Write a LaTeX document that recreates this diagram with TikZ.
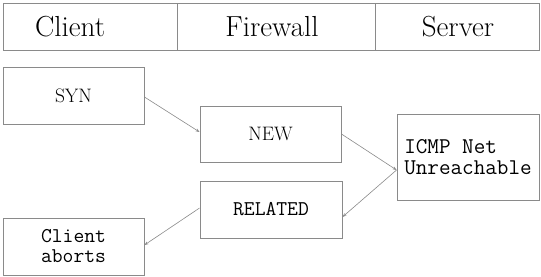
\documentclass[tikz,border=0pt]{standalone}
\usepackage{fontspec}
\usetikzlibrary{arrows.meta}
\definecolor{linegray}{HTML}{8A8A8A}
\begin{document}
\begin{tikzpicture}[x=1pt,y=-1pt,
  hcell/.style={draw=linegray,line width=0.9pt,minimum height=47pt,inner sep=0pt},
  htext/.style={inner sep=0pt,font=\fontsize{29}{32}\selectfont},
  sbox/.style={draw=linegray,line width=0.9pt,inner sep=0pt,font=\fontsize{19.5}{22}\selectfont},
  mbox/.style={draw=linegray,line width=0.9pt,inner sep=0pt,align=center,font=\ttfamily\fontsize{21}{20}\selectfont},
  conn/.style={draw=linegray,line width=0.6pt,-{Stealth[length=4pt,width=3pt]}}]
\useasboundingbox (0,0) rectangle (541,276);
\node[hcell,minimum width=174pt] (hc) at (90,26.5) {};
\node[hcell,minimum width=198pt] (hf) at (276,26.5) {};
\node[hcell,minimum width=164pt] (hs) at (457,26.5) {};
\node[htext] (tc) at (70,27) {Client};
\node[htext] (tf) at (272,27) {Firewall};
\node[htext] (ts) at (458,27) {Server};
\node[sbox,minimum width=141pt,minimum height=57pt] (syn) at (73.5,95.5) {SYN};
\node[sbox,minimum width=141pt,minimum height=56pt] (new) at (270.5,134) {NEW};
\node[mbox,minimum width=142pt,minimum height=57pt] (rel) at (271,209.5) {RELATED};
\node[mbox,minimum width=141pt,minimum height=57pt] (ca) at (73.5,246.5) {Client\\aborts};
\node[mbox,minimum width=142pt,minimum height=86pt,align=left,font=\ttfamily\fontsize{22.5}{21}\selectfont] (icmp) at (468,157) {ICMP Net\\Unreachable};
\draw[conn] ([yshift=-1.5pt]syn.east) -- ([yshift=2pt]new.west);
\draw[conn] (new.east) -- ([yshift=-13pt]icmp.west);
\draw[conn] ([yshift=-13pt]icmp.west) -- ([yshift=-7.5pt]rel.east);
\draw[conn] ([yshift=1.5pt]rel.west) -- ([yshift=1.5pt]ca.east);
\end{tikzpicture}
\end{document}
